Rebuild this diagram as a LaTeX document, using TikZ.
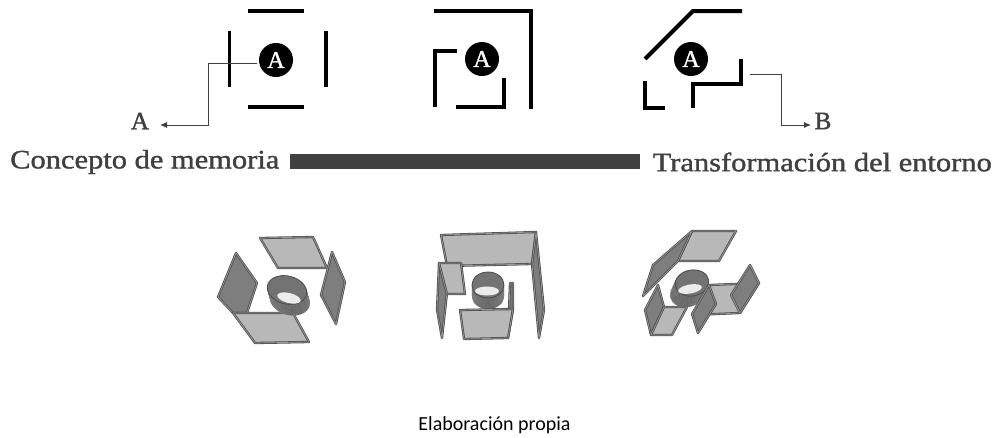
\documentclass[tikz,border=0pt]{standalone}
\usepackage{fontspec}
\setmainfont{Liberation Serif}
\newfontfamily\capfont{Carlito}
\newfontfamily\headfont[FakeBold=1.4]{Liberation Serif}
\newfontfamily\wideheadfont[FakeBold=1.4,FakeStretch=1.15]{Liberation Serif}
\usetikzlibrary{arrows.meta}
\definecolor{ink}{HTML}{404040}
\definecolor{edgec}{HTML}{505050}
\definecolor{edgei}{HTML}{989898}
\definecolor{lightp}{HTML}{B8B8B8}
\definecolor{darkp}{HTML}{7E7E7E}
\tikzset{
  wall/.style={line width=#1,black,line cap=butt,line join=miter},
  wall/.default=3.5pt,
  mark circle/.style={circle,fill=black,minimum size=34pt,inner sep=0pt,text=white,font=\headfont\fontsize{24}{24}\selectfont},
  leader/.style={draw=ink,line width=0.9pt,-{Latex[length=7pt,width=6pt]}},
  sidelabel/.style={text=ink,font=\headfont\fontsize{25}{25}\selectfont,inner sep=0pt},
  head/.style={text=ink,font=\wideheadfont\fontsize{26.5}{27}\selectfont,inner sep=0pt},
  plane/.style={draw=edgec,double=edgei,double distance=0.7pt,line width=0.8pt,line join=round,fill=#1},
  plane/.default=lightp,
}
\newcommand{\plate}[2][lightp]{\draw[plane=#1] plot coordinates {#2} -- cycle;}
% centre, dx, dy, rx, ry, rot, inner centre, inner rx, inner ry
\newcommand{\drum}[9]{%
  \begin{scope}[shift={(#1)}]
    \foreach \t in {1,0.93,...,0.0}{
      \draw[draw=black!45,fill=black!68,line width=0.3pt] ({\t*#2},{\t*#3}) ellipse [x radius=#4pt,y radius=#5pt,rotate=#6];
    }
    \draw[draw=black!70,fill=black!55,line width=0.8pt] (0,0) ellipse [x radius=#4pt,y radius=#5pt,rotate=#6];
    \begin{scope}
      \clip (0,0) ellipse [x radius=#4pt,y radius=#5pt,rotate=#6];
      \fill[black!8] (#7) ellipse [x radius=#8pt,y radius=#9pt,rotate=#6];
    \end{scope}
  \end{scope}}
\begin{document}
\begin{tikzpicture}[x=1pt,y=-1pt]
\useasboundingbox (0,0) rectangle (995,437);
% plans
\draw[wall=4pt] (248,11) -- (304,11);
\draw[wall] (229.5,31) -- (229.5,87);
\draw[wall] (326,31) -- (326,87);
\draw[wall] (248,107) -- (304,107);
\node[mark circle] (c1) at (276,60) {A};
\draw[wall=4.5pt] (434,11) -- (531,11) -- (531,109);
\draw[wall=4.5pt] (435,107) -- (435,51) -- (457,51);
\draw[wall] (456,107) -- (504,107) -- (504,78);
\node[mark circle] (c2) at (482,59) {A};
\draw[wall=4pt] (645,59) -- (693,11) -- (742,11);
\draw[wall=4.5pt] (645,81) -- (645,108) -- (665,108);
\draw[wall=4.5pt] (693,108) -- (693,84) -- (741,84) -- (741,59);
\node[mark circle] (c3) at (691,59) {A};
% leaders
\node[sidelabel] (la) at (140,121) {A};
\node[sidelabel] (lb) at (823,121) {B};
\coordinate (s1) at (257,63);
\coordinate (s2) at (750,74);
\draw[leader] (s1) -- (208.5,63) -- (208.5,125) -- (160,125);
\draw[leader] (s2) -- (781,74) -- (781,125) -- (811,125);
% scale
\node[head,anchor=west] (t1) at (10,162) {Concepto de memoria};
\node[head,anchor=east] (t2) at (992,162) {Transformación del entorno};
\fill[ink] (290,154) rectangle (640,169);
% model 1
\plate{(260,238) (313,237) (327,268) (278,268)}
\plate[darkp]{(236,253) (257,283) (247,313) (233,313) (218,297)}
\plate[darkp]{(332,252) (345,282) (336,324) (321,295)}
\plate{(233,313) (293,313) (309,342) (255,343)}
\drum{287,290}{3}{11}{20}{14}{-14}{2,8}{12}{5}
% model 2
\plate{(441,235) (536,232) (532,264) (447,266)}
\plate[darkp]{(536,232) (544,310) (539,338) (532,264)}
\plate[darkp]{(439,263) (447,293) (442,338) (437,310)}
\plate{(439,263) (461,263) (465,294) (447,294)}
\drum{488,285}{0}{11}{16}{13}{0}{-1,6}{12}{4.5}
\plate[darkp]{(510,283) (513,283) (513,309) (508,338)}
\plate{(460,310) (513,309) (508,338) (464,339)}
% model 3
\plate{(692,231) (736,231) (719,261) (678,261)}
\plate[darkp]{(692,231) (678,261) (643,296) (653,265)}
\plate[darkp]{(658,285) (664,307) (651,335) (645,310)}
\plate{(664,307) (687,307) (672,335) (651,335)}
\drum{692,283}{-5}{11}{17}{13}{10}{-2,6}{12}{4.5}
\plate{(709,285) (759,283) (740,313) (693,315)}
\fill[darkp] (731,295) -- (759,283) -- (740,313) -- cycle;
\plate[darkp]{(750,265) (759,283) (740,313) (731,295)}
\plate[darkp]{(709,285) (716,304) (698,333) (692,314)}
% caption
\node[font=\capfont\fontsize{20}{20}\selectfont,text=black,inner sep=0pt] (cap) at (494.5,425) {Elaboración propia};
\end{tikzpicture}
\end{document}
